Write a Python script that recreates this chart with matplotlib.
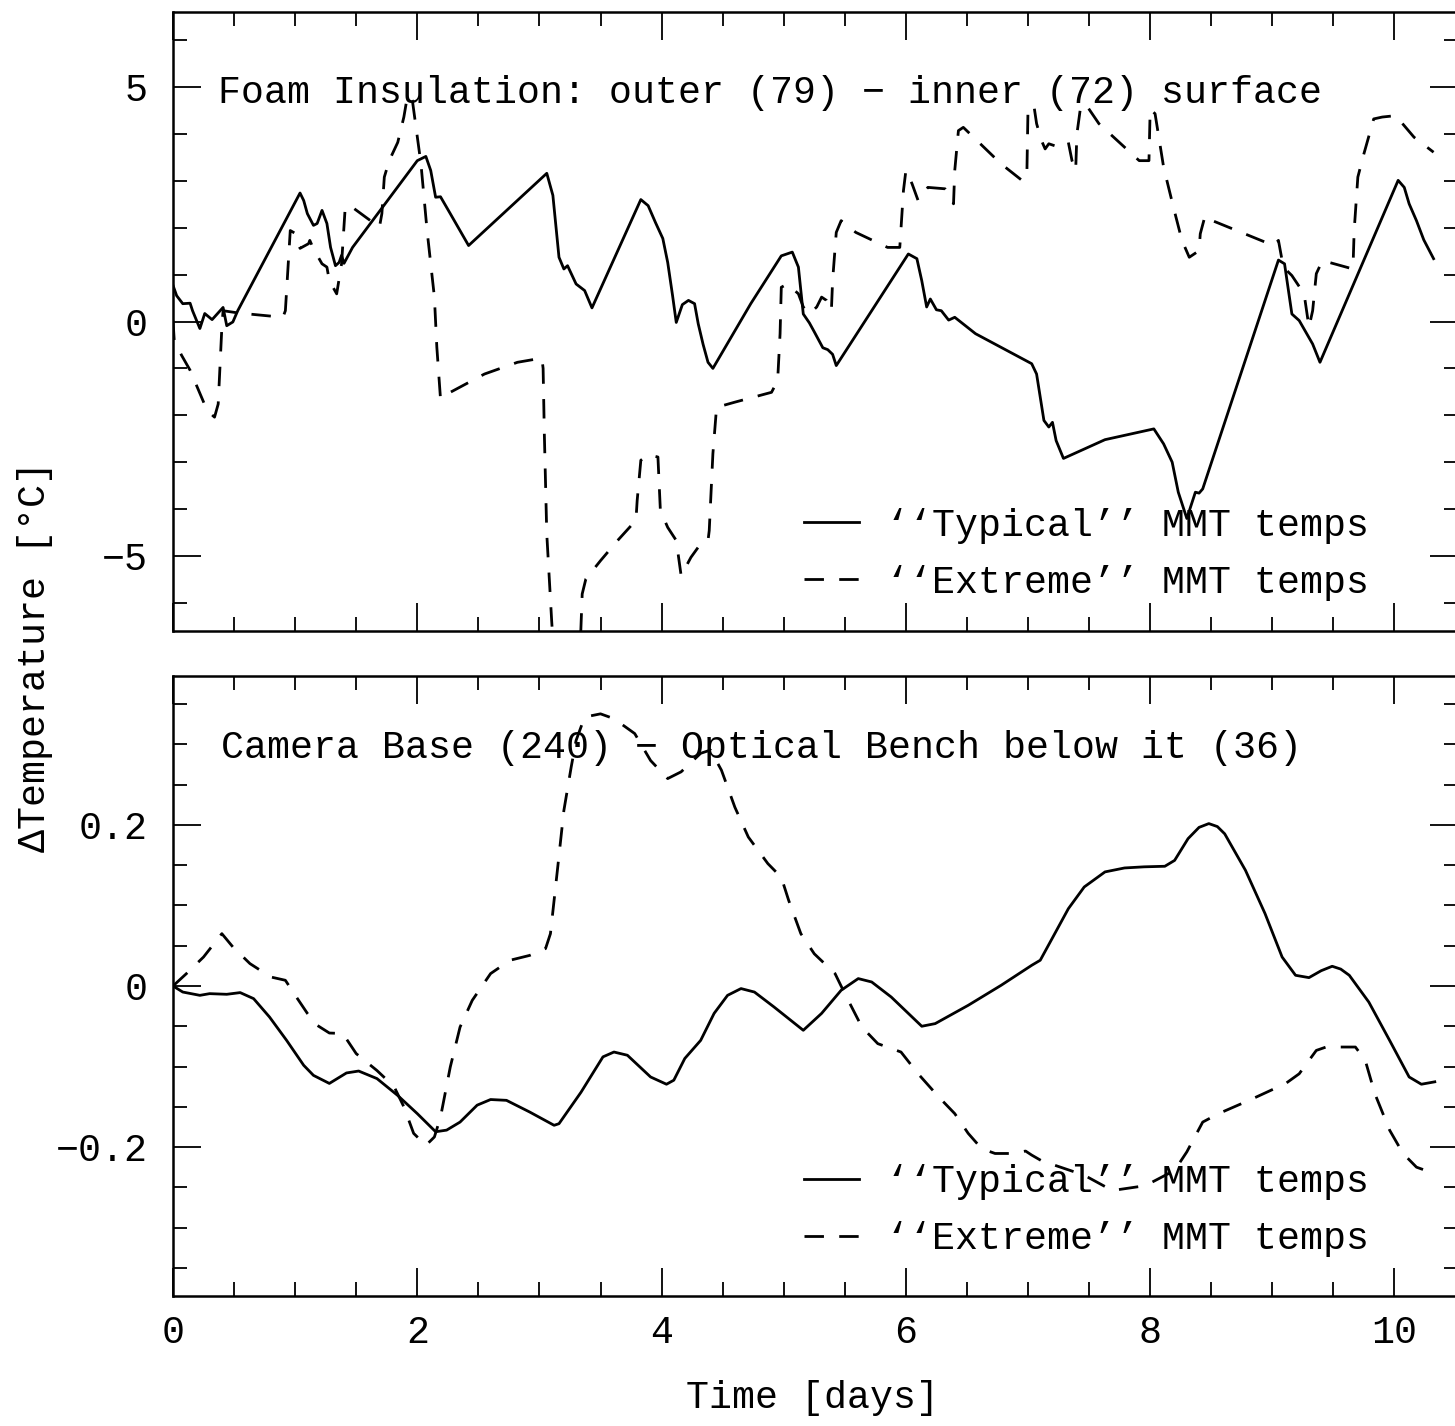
import matplotlib
matplotlib.use("Agg")
import matplotlib.pyplot as plt
from matplotlib.ticker import MultipleLocator, FuncFormatter

plt.rcParams['font.family'] = ['Liberation Mono', 'DejaVu Sans Mono']

# --- top panel: foam insulation, outer - inner surface ---
top_typ_x = [0.00, 0.03, 0.08, 0.14, 0.16, 0.22, 0.26, 0.32, 0.41, 0.44, 0.49, 0.53,
             1.04, 1.07, 1.10, 1.15, 1.18, 1.22, 1.26, 1.29, 1.33, 1.36, 1.38, 1.40, 1.47,
             2.00, 2.07, 2.11, 2.15, 2.19, 2.27, 2.42, 3.06, 3.11, 3.16, 3.20, 3.23, 3.30,
             3.37, 3.43, 3.83, 3.89, 3.95, 4.01, 4.05, 4.09, 4.12, 4.17, 4.22, 4.27, 4.30,
             4.34, 4.38, 4.42, 4.73, 4.98, 5.07, 5.12, 5.16, 5.21, 5.25, 5.32, 5.36, 5.40,
             5.43, 6.02, 6.09, 6.13, 6.17, 6.20, 6.25, 6.29, 6.35, 6.40, 6.57, 7.03, 7.07,
             7.13, 7.17, 7.20, 7.23, 7.29, 7.63, 8.03, 8.11, 8.18, 8.23, 8.30, 8.37, 8.40,
             8.43, 9.05, 9.10, 9.16, 9.22, 9.33, 9.39, 10.03, 10.08, 10.12, 10.18, 10.24, 10.32]
top_typ_y = [0.77, 0.55, 0.38, 0.39, 0.23, -0.15, 0.17, 0.04, 0.30, -0.09, -0.01, 0.23,
             2.74, 2.58, 2.30, 2.05, 2.09, 2.37, 2.09, 1.58, 1.19, 1.26, 1.41, 1.24, 1.58,
             3.43, 3.52, 3.22, 2.65, 2.66, 2.30, 1.62, 3.16, 2.69, 1.37, 1.12, 1.19, 0.80,
             0.66, 0.29, 2.60, 2.47, 2.11, 1.77, 1.26, 0.55, -0.02, 0.36, 0.45, 0.38, -0.05,
             -0.49, -0.87, -1.00, 0.38, 1.40, 1.48, 1.16, 0.16, -0.03, -0.22, -0.56, -0.60, -0.70,
             -0.94, 1.44, 1.34, 0.87, 0.31, 0.48, 0.25, 0.23, 0.03, 0.09, -0.26, -0.90, -1.12,
             -2.11, -2.25, -2.15, -2.54, -2.92, -2.52, -2.29, -2.61, -3.00, -3.64, -4.20, -3.64, -3.66,
             -3.57, 1.31, 1.23, 0.16, 0.02, -0.48, -0.87, 3.01, 2.86, 2.51, 2.15, 1.74, 1.34]

top_ext_x = [0.00, 0.01, 0.07, 0.14, 0.24, 0.28, 0.34, 0.37, 0.40, 0.41, 0.54, 0.90, 0.92,
             0.96, 1.00, 1.04, 1.11, 1.12, 1.15, 1.22, 1.26, 1.28, 1.34, 1.38, 1.41, 1.45,
             1.69, 1.71, 1.73, 1.77, 1.84, 1.89, 1.92, 1.96, 2.03, 2.08, 2.14, 2.16, 2.19,
             2.27, 2.55, 2.82, 3.02, 3.03, 3.04, 3.06, 3.10, 3.12, 3.33, 3.35, 3.38, 3.50,
             3.64, 3.79, 3.80, 3.83, 3.89, 3.97, 3.99, 4.05, 4.12, 4.16, 4.24, 4.32, 4.38,
             4.39, 4.42, 4.45, 4.60, 4.90, 4.95, 4.97, 4.98, 5.03, 5.12, 5.16, 5.21, 5.27,
             5.31, 5.35, 5.39, 5.40, 5.43, 5.47, 5.59, 5.85, 5.95, 5.98, 6.00, 6.05, 6.10,
             6.18, 6.32, 6.39, 6.40, 6.43, 6.47, 6.78, 6.95, 6.99, 7.00, 7.05, 7.07, 7.11,
             7.14, 7.17, 7.25, 7.33, 7.36, 7.39, 7.40, 7.43, 7.47, 7.58, 7.91, 7.99, 8.00,
             8.04, 8.11, 8.19, 8.26, 8.32, 8.40, 8.41, 8.45, 8.51, 9.01, 9.05, 9.09, 9.16,
             9.26, 9.30, 9.33, 9.36, 9.41, 9.66, 9.67, 9.70, 9.75, 9.81, 9.83, 9.90, 10.01,
             10.16, 10.32]
top_ext_y = [0.02, -0.40, -0.72, -1.04, -1.65, -1.90, -2.04, -1.76, -0.12, 0.23, 0.18, 0.09, 0.23,
             1.94, 1.88, 1.56, 1.66, 1.73, 1.55, 1.23, 1.16, 0.87, 0.59, 1.23, 2.44, 2.47,
             2.01, 2.30, 3.08, 3.43, 3.82, 4.36, 4.82, 4.71, 3.36, 1.94, 0.52, -0.55, -1.65,
             -1.51, -1.12, -0.87, -0.78, -1.00, -2.39, -4.53, -6.38, -7.20, -7.20, -5.81, -5.49, -5.10,
             -4.67, -4.24, -3.82, -2.96, -2.84, -2.89, -4.03, -4.39, -4.67, -5.42, -5.03, -4.74, -4.67,
             -4.46, -2.82, -1.83, -1.72, -1.51, -1.26, -0.26, 0.73, 0.80, 0.59, 0.31, 0.16, 0.31,
             0.52, 0.45, 0.23, 0.87, 1.90, 2.15, 1.90, 1.58, 1.58, 2.79, 3.22, 2.94, 2.58,
             2.86, 2.83, 2.51, 3.22, 4.07, 4.14, 3.36, 3.01, 3.08, 4.57, 4.57, 4.22, 3.86,
             3.68, 3.79, 3.72, 3.82, 3.43, 3.22, 4.00, 4.57, 4.64, 4.22, 3.43, 3.43, 4.53,
             4.43, 3.29, 2.44, 1.73, 1.37, 1.51, 1.87, 2.26, 2.15, 1.62, 1.73, 1.16, 0.98,
             0.59, -0.12, 0.23, 1.02, 1.30, 1.12, 1.94, 3.08, 3.58, 4.14, 4.32, 4.36, 4.39,
             3.93, 3.61]

# --- bottom panel: camera base - optical bench ---
bot_typ_x = [0.00, 0.08, 0.22, 0.30, 0.44, 0.55, 0.66, 0.79, 0.93, 1.07, 1.15, 1.28, 1.42,
             1.52, 1.67, 1.84, 2.00, 2.15, 2.24, 2.35, 2.49, 2.60, 2.73, 2.92, 3.12, 3.16,
             3.34, 3.52, 3.61, 3.72, 3.91, 4.04, 4.10, 4.19, 4.32, 4.43, 4.54, 4.65, 4.76,
             4.92, 5.16, 5.31, 5.47, 5.61, 5.72, 5.88, 6.13, 6.24, 6.51, 6.78, 7.03, 7.10,
             7.19, 7.33, 7.46, 7.63, 7.79, 7.95, 8.12, 8.20, 8.31, 8.40, 8.48, 8.55, 8.61,
             8.78, 8.94, 9.08, 9.19, 9.30, 9.40, 9.49, 9.56, 9.63, 9.79, 9.96, 10.12, 10.22,
             10.33]
bot_typ_y = [0.000, -0.0075, -0.0116, -0.0095, -0.0103, -0.0082, -0.0157, -0.0385, -0.0675,
             -0.0985, -0.111, -0.121, -0.108, -0.1056, -0.115, -0.136, -0.1585, -0.181, -0.179,
             -0.169, -0.148, -0.141, -0.142, -0.1565, -0.173, -0.171, -0.132, -0.088, -0.082,
             -0.086, -0.113, -0.122, -0.117, -0.090, -0.0675, -0.034, -0.0116, -0.0032, -0.0075,
             -0.026, -0.055, -0.034, -0.0053, 0.0092, 0.005, -0.0137, -0.050, -0.0467, -0.024,
             0.0009, 0.0257, 0.032, 0.057, 0.096, 0.123, 0.1417, 0.1466, 0.148, 0.1487, 0.156,
             0.183, 0.197, 0.2017, 0.198, 0.189, 0.1437, 0.090, 0.036, 0.0133, 0.0104, 0.019,
             0.0245, 0.021, 0.0133, -0.020, -0.0675, -0.113, -0.122, -0.119]

bot_ext_x = [0.00, 0.11, 0.25, 0.40, 0.49, 0.63, 0.80, 0.92, 1.01, 1.10, 1.18, 1.28, 1.39,
             1.50, 1.67, 1.81, 1.89, 1.97, 2.07, 2.14, 2.19, 2.27, 2.35, 2.45, 2.60, 2.76,
             2.92, 3.05, 3.09, 3.15, 3.20, 3.26, 3.30, 3.37, 3.50, 3.61, 3.78, 3.91, 4.05,
             4.16, 4.32, 4.40, 4.49, 4.60, 4.71, 4.87, 4.98, 5.04, 5.14, 5.25, 5.42, 5.50,
             5.64, 5.77, 5.96, 6.10, 6.27, 6.40, 6.51, 6.62, 6.73, 6.87, 6.98, 7.03, 7.11,
             7.46, 7.69, 7.96, 8.20, 8.30, 8.43, 8.56, 8.81, 9.11, 9.22, 9.36, 9.44, 9.68,
             9.76, 9.84, 9.96, 10.07, 10.18, 10.29]
bot_ext_y = [0.000, 0.0154, 0.036, 0.065, 0.0485, 0.0278, 0.0112, 0.0071, -0.0137, -0.034,
             -0.0488, -0.0584, -0.059, -0.084, -0.105, -0.125, -0.150, -0.183, -0.198, -0.1875,
             -0.163, -0.1006, -0.051, -0.0178, 0.0154, 0.032, 0.038, 0.0465, 0.065, 0.148,
             0.218, 0.272, 0.305, 0.334, 0.338, 0.332, 0.3135, 0.280, 0.2576, 0.266, 0.289,
             0.293, 0.268, 0.222, 0.185, 0.152, 0.135, 0.1065, 0.065, 0.040, 0.0154, -0.0095,
             -0.051, -0.0716, -0.082, -0.109, -0.138, -0.1585, -0.183, -0.202, -0.208, -0.208,
             -0.205, -0.210, -0.217, -0.235, -0.254, -0.248, -0.229, -0.206, -0.169, -0.1585,
             -0.142, -0.121, -0.109, -0.080, -0.0758, -0.0758, -0.092, -0.134, -0.179, -0.208,
             -0.225, -0.231]

typ_label = "\u2018\u2018Typical\u2019\u2019 MMT temps"
ext_label = "\u2018\u2018Extreme\u2019\u2019 MMT temps"
top_title = "Foam Insulation: outer (79) \u2212 inner (72) surface"
bot_title = "Camera Base (240) \u2212 Optical Bench below it (36)"

FS = 27.5
LW = 2.0


def fmt(v, pos):
    if abs(v) < 1e-9:
        return "0"
    return f"{v:g}".replace('-', '\u2212')


def style_axes(ax, ymaj, ymin):
    ax.set_xlim(0, 10.52)
    ax.xaxis.set_major_locator(MultipleLocator(2))
    ax.xaxis.set_minor_locator(MultipleLocator(0.5))
    ax.yaxis.set_major_locator(MultipleLocator(ymaj))
    ax.yaxis.set_minor_locator(MultipleLocator(ymin))
    ax.xaxis.set_major_formatter(FuncFormatter(fmt))
    ax.yaxis.set_major_formatter(FuncFormatter(fmt))
    ax.tick_params(which='both', direction='in', top=True, right=True,
                   width=1.3, labelsize=FS)
    ax.tick_params(which='major', length=20)
    ax.tick_params(which='minor', length=10)
    ax.tick_params(axis='y', pad=18)
    ax.tick_params(axis='x', pad=14)
    for s in ax.spines.values():
        s.set_linewidth(1.8)


fig = plt.figure(figsize=(14.55, 14.26), dpi=100)
ax1 = fig.add_axes([173 / 1455, 1 - 631 / 1426, 1285 / 1455, 619 / 1426])
ax2 = fig.add_axes([173 / 1455, 1 - 1296 / 1426, 1285 / 1455, 620 / 1426])

ax1.plot(top_typ_x, top_typ_y, color='black', lw=LW, label=typ_label)
ax1.plot(top_ext_x, top_ext_y, color='black', lw=LW, dashes=(7, 5.5), label=ext_label)
ax1.set_ylim(-6.6, 6.6)
style_axes(ax1, 5, 1)
ax1.tick_params(labelbottom=False)
ax1.text(0.035, 0.869, top_title, transform=ax1.transAxes, ha='left', va='center', fontsize=FS)
ax1.legend(loc='center left', bbox_to_anchor=(0.491, 0.124), frameon=False,
           handlelength=1.45, handletextpad=0.7, labelspacing=0.55,
           borderpad=0, borderaxespad=0, fontsize=FS)

ax2.plot(bot_typ_x, bot_typ_y, color='black', lw=LW, label=typ_label)
ax2.plot(bot_ext_x, bot_ext_y, color='black', lw=LW, dashes=(7, 5.5), label=ext_label)
ax2.set_ylim(-0.385, 0.385)
style_axes(ax2, 0.2, 0.05)
ax2.text(0.037, 0.884, bot_title, transform=ax2.transAxes, ha='left', va='center', fontsize=FS)
ax2.legend(loc='center left', bbox_to_anchor=(0.491, 0.138), frameon=False,
           handlelength=1.45, handletextpad=0.7, labelspacing=0.55,
           borderpad=0, borderaxespad=0, fontsize=FS)

fig.text(35 / 1455, 1 - 657 / 1426, "\u0394Temperature [\u00b0C]", rotation=90,
         ha='center', va='center', fontsize=FS)
fig.text(813 / 1455, 1 - 1398 / 1426, "Time [days]", ha='center', va='center', fontsize=FS)

fig.savefig("out.png", dpi=100)
